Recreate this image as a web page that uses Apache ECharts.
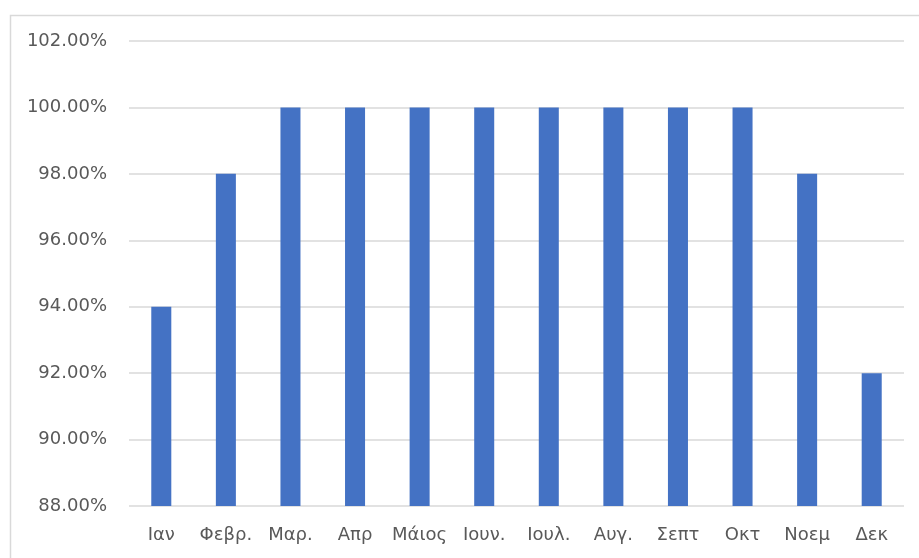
<!DOCTYPE html>
<html>
<head>
<meta charset="utf-8">
<script src="https://cdn.jsdelivr.net/npm/echarts@6/dist/echarts.min.js"></script>
<style>
html,body{margin:0;padding:0;background:#fff;}
#chart{width:919px;height:558px;}
</style>
</head>
<body>
<div id="chart"></div>
<script>
var months = ['Ιαν', 'Φεβρ.', 'Μαρ.', 'Απρ', 'Μάιος', 'Ιουν.', 'Ιουλ.', 'Αυγ.', 'Σεπτ', 'Οκτ', 'Νοεμ', 'Δεκ'];
var rates = [94, 98, 100, 100, 100, 100, 100, 100, 100, 100, 98, 92];
var yMin = 88, yMax = 102, yStep = 2;

var chart = echarts.init(document.getElementById('chart'));
chart.setOption({
    animation: false,
    textStyle: {
        fontFamily: 'DejaVu Sans'
    },
    graphic: [{
        type: 'rect',
        left: 8,
        top: 13,
        shape: {width: 930, height: 560},
        style: {fill: 'none', stroke: '#d9d9d9', lineWidth: 1.5},
        silent: true
    }],
    grid: {
        left: 129,
        right: 15,
        top: 41,
        bottom: 52
    },
    xAxis: {
        type: 'category',
        data: months,
        axisLine: {show: false},
        axisTick: {show: false},
        axisLabel: {
            color: '#595959',
            fontSize: 18,
            margin: 20,
            interval: 0,
            hideOverlap: false
        }
    },
    yAxis: {
        type: 'value',
        min: yMin,
        max: yMax,
        interval: yStep,
        axisLine: {show: false},
        axisTick: {show: false},
        splitLine: {
            lineStyle: {color: '#d9d9d9', width: 1.5}
        },
        axisLabel: {
            color: '#595959',
            fontSize: 18,
            margin: 22,
            formatter: function (v) {
                return v.toFixed(2) + '%';
            }
        }
    },
    series: [{
        type: 'bar',
        data: rates,
        barWidth: '31%',
        itemStyle: {color: '#4472c4'}
    }]
});
</script>
</body>
</html>
